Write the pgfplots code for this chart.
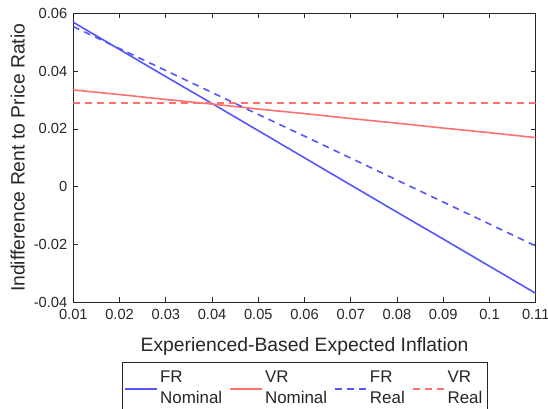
\documentclass[border=0pt]{standalone}
\usepackage{pgfplots}
\pgfplotsset{compat=1.18}
\usetikzlibrary{calc}
\usepackage{fontspec}
\setmainfont{Liberation Sans}
\definecolor{myblue}{RGB}{85,85,255}
\definecolor{myred}{RGB}{255,112,112}
\definecolor{axgray}{RGB}{38,38,38}
\begin{document}
\begin{tikzpicture}
\begin{axis}[
  name=ax,
  scale only axis,
  width=346.8pt, height=216.75pt,
  xmin=0.01, xmax=0.11, ymin=-0.04, ymax=0.06,
  scaled ticks=false,
  /pgf/number format/assume math mode=true,
  xtick={0.01,0.02,...,0.11},
  xticklabels={0.01,0.02,0.03,0.04,0.05,0.06,0.07,0.08,0.09,0.1,0.11},
  ytick={-0.04,-0.02,0,0.02,0.04,0.06},
  yticklabels={-0.04,-0.02,0,0.02,0.04,0.06},
  tick align=inside,
  major tick length=3.75pt,
  axis line style={axgray, line width=0.5pt},
  every tick/.style={axgray, line width=0.5pt},
  tick label style={font=\fontsize{11}{13}\selectfont, text=axgray},
  xticklabel style={yshift=-2pt},
  yticklabel style={xshift=-1pt},
  label style={font=\fontsize{14.5}{17}\selectfont, text=axgray},
  xlabel={Experienced-Based Expected Inflation},
  xlabel style={yshift=-6pt},
  ylabel={Indifference Rent to Price Ratio},
  legend columns=4,
  legend style={at={(0.5,-0.205)}, anchor=north, draw=axgray, line width=0.5pt,
    font=\fontsize{12.7}{16.2}\selectfont, text=axgray,
    inner xsep=2pt, inner ysep=2pt,
    nodes={text depth=, inner xsep=1.5pt},
    /tikz/every even column/.append style={column sep=4pt}},
  legend cell align=left,
  legend image post style={xscale=1.4},
]
\addplot[myblue, line width=1.2pt] coordinates {
(0.01,0.0569)(0.02,0.0475)(0.03,0.0381)(0.04,0.0288)(0.05,0.0194)(0.06,0.0100)
(0.07,0.0006)(0.08,-0.0088)(0.09,-0.0181)(0.10,-0.0275)(0.11,-0.0369)};
\addlegendentry{\begin{tabular}{@{}l@{}}FR\\Nominal\end{tabular}}
\addplot[myred, line width=1.2pt] coordinates {
(0.01,0.0335)(0.02,0.0319)(0.03,0.0302)(0.04,0.0286)(0.05,0.0269)(0.06,0.0253)
(0.07,0.0236)(0.08,0.0220)(0.09,0.0203)(0.10,0.0187)(0.11,0.0170)};
\addlegendentry{\begin{tabular}{@{}l@{}}VR\\Nominal\end{tabular}}
\addplot[myblue, line width=1.2pt, dash pattern=on 5pt off 4pt] coordinates {
(0.01,0.0554)(0.02,0.0478)(0.03,0.0402)(0.04,0.0326)(0.05,0.0250)(0.06,0.0175)
(0.07,0.0099)(0.08,0.0023)(0.09,-0.0053)(0.10,-0.0129)(0.11,-0.0205)};
\addlegendentry{\begin{tabular}{@{}l@{}}FR\\Real\end{tabular}}
\addplot[myred, line width=1.2pt, dash pattern=on 5pt off 4pt] coordinates {
(0.01,0.029)(0.02,0.029)(0.03,0.029)(0.04,0.029)(0.05,0.029)(0.06,0.029)
(0.07,0.029)(0.08,0.029)(0.09,0.029)(0.10,0.029)(0.11,0.029)};
\addlegendentry{\begin{tabular}{@{}l@{}}VR\\Real\end{tabular}}
\end{axis}
\pgfresetboundingbox
\path ($(ax.south west)+(-55pt,-79.3pt)$) rectangle ($(ax.north east)+(9.2pt,10pt)$);
\end{tikzpicture}
\end{document}
